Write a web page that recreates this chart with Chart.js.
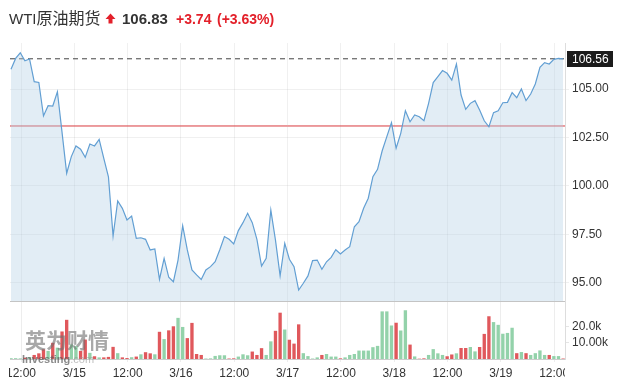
<!DOCTYPE html>
<html><head><meta charset="utf-8">
<script src="https://cdn.jsdelivr.net/npm/chart.js@4/dist/chart.umd.min.js"></script>
<style>
html,body{margin:0;padding:0;background:#fff;width:632px;height:391px;overflow:hidden;}
#wrap{position:relative;width:632px;height:391px;}
canvas{position:absolute;left:0;}
.t{position:absolute;white-space:nowrap;line-height:20px;font-family:'Liberation Sans',Arial,'Noto Sans CJK SC',sans-serif;}
</style></head>
<body><div id="wrap">
<canvas id="pc" width="632" height="302" style="top:0"></canvas>
<canvas id="vc" width="632" height="89" style="top:302px"></canvas>
<div class="t" style="left:9px;top:8.5px;font-size:15px;color:#333;">WTI<span style="font-size:16px">原油期货</span></div>
<svg style="position:absolute;left:105px;top:13px" width="11" height="11"><polygon points="5.5,0.5 10.5,6 7.5,6 7.5,10.5 3.5,10.5 3.5,6 0.5,6" fill="#e3202a"/></svg>
<div class="t" style="left:122px;top:8.5px;font-size:15px;font-weight:bold;color:#333;">106.83</div>
<div class="t" style="left:176px;top:9px;font-size:14px;font-weight:bold;color:#e3202a;">+3.74</div>
<div class="t" style="left:217px;top:9px;font-size:14px;font-weight:bold;color:#e3202a;">(+3.63%)</div>
<div class="t" style="left:25px;top:329px;font-size:21px;font-weight:bold;color:rgba(110,110,110,0.6);font-family:'Noto Sans CJK SC',sans-serif;">英为财情</div>
<div class="t" style="left:22px;top:349px;font-size:11px;font-weight:bold;color:rgba(90,90,90,0.7);">Investing<span style="font-weight:normal;color:rgba(150,150,150,0.6)">.com</span></div>
</div>
<script>
// ---- data ----
const prices = [
106.02,106.58,106.87,106.46,106.55,105.38,105.34,103.61,104.14,104.12,
104.86,102.76,100.65,101.51,102.06,101.89,101.47,102.16,102.06,102.40,
101.42,100.47,97.41,99.22,98.84,98.24,98.44,97.29,97.32,97.24,
96.69,96.74,95.17,96.26,95.28,95.05,96.17,97.94,96.69,95.66,
95.40,95.17,95.66,95.83,96.08,96.70,97.38,97.24,97.00,97.69,
98.10,98.58,98.10,97.24,95.86,96.26,98.75,97.20,95.35,97.03,
96.21,95.83,94.62,94.97,95.35,96.14,96.17,95.69,96.08,96.31,
96.70,96.48,96.69,96.86,97.89,98.15,98.84,99.36,100.47,100.85,
101.81,102.54,103.26,101.94,102.71,103.88,103.31,103.66,103.57,103.36,
104.26,105.33,105.64,105.95,105.81,105.46,106.29,104.69,103.95,104.26,
104.40,103.92,103.36,103.05,103.78,103.88,104.29,104.31,104.81,104.55,
105.00,104.40,104.74,105.26,106.12,106.36,106.29,106.53,106.58,106.56];
const volumes = [ // thousands
0.5,0.5,0.4,0.8,1.2,2.5,3.5,6.0,5.0,10.0,
7.0,17.0,24.2,9.0,8.0,5.0,12.0,3.8,1.7,1.0,
1.0,1.3,7.5,3.6,1.0,0.6,1.1,1.5,2.9,4.2,
3.5,2.9,16.8,12.3,17.7,20.2,25.4,19.8,12.9,22.3,
3.1,2.5,0.3,0.4,1.9,2.3,2.3,0.3,0.4,1.5,
2.9,2.3,4.6,2.5,6.7,2.5,10.9,17.4,28.6,18.2,
11.9,9.5,21.4,3.6,1.8,0.3,1.0,2.5,3.1,1.5,
1.5,0.4,1.0,2.5,3.1,5.2,5.2,5.2,7.3,8.1,
29.4,29.4,20.7,22.4,17.6,30.1,8.9,1.6,0.2,0.4,
2.5,6.1,3.5,2.5,1.7,2.8,3.5,6.8,6.8,7.4,
4.7,7.4,15.5,26.4,22.8,21.1,15.6,16.1,19.3,3.6,
4.3,3.6,2.5,3.6,5.3,2.5,2.5,1.8,1.8,0.3];
const prevClose = 103.09;
const priceTicks = [95, 97.5, 100, 102.5, 105];
const volTicks = [10, 20];
const volTickLabels = ['10.00k', '20.0k'];
const xTickLabels = ['12:00','3/15','12:00','3/16','12:00','3/17','12:00','3/18','12:00','3/19','12:00'];
const xTickFirst = 2.16;   // bar index of first label
const xTickStep = 11.49;   // bars per half day

// ---- view settings ----
const xMin = -0.2155, xMax = 119.4;
const yMin = 94.055, yMax = 107.375;
const volMax = 35.2;
const lastPrice = prices[prices.length - 1];
const RED = '#e0585c', GREEN = '#93d2aa';
const FONT = "'Liberation Sans', Arial, sans-serif";
Chart.defaults.font.family = FONT;
Chart.defaults.font.size = 12;
Chart.defaults.color = '#333';

const xTicks = s => { s.ticks = xTickLabels.map((_, k) => ({ value: xTickFirst + k * xTickStep })); };
const noPad = s => { s.paddingTop = 0; s.paddingBottom = 0; s.paddingLeft = 0; s.paddingRight = 0; };

const lastLabel = {
  id: 'lastLabel',
  afterDraw(chart) {
    const c = chart.ctx, y = chart.scales.y.getPixelForValue(lastPrice);
    const x = chart.chartArea.right + 2;
    c.save();
    c.fillStyle = '#1b1b1b';
    c.fillRect(x, Math.round(y) - 8, 46, 16);
    c.fillStyle = '#fff';
    c.font = '12px ' + FONT;
    c.textBaseline = 'middle';
    c.textAlign = 'left';
    c.fillText(lastPrice.toFixed(2), x + 5, Math.round(y) + 0.5);
    c.restore();
  }
};

new Chart(document.getElementById('pc'), {
  type: 'line',
  data: { datasets: [
    { data: prices.map((v, i) => ({ x: i, y: v })), borderColor: '#629fd3', borderWidth: 1.2,
      backgroundColor: 'rgba(180,208,230,0.38)', fill: 'start', pointRadius: 0, tension: 0 },
    { data: [{ x: xMin, y: prevClose }, { x: xMax, y: prevClose }], borderColor: '#d93a3e',
      borderWidth: 1, pointRadius: 0, fill: false },
    { data: [{ x: xMin, y: lastPrice }, { x: xMax, y: lastPrice }], borderColor: '#444',
      borderWidth: 1, borderDash: [5, 4], pointRadius: 0, fill: false }
  ]},
  options: {
    responsive: false, animation: false, events: [],
    layout: { padding: { left: 10, right: 0, top: 43, bottom: 1 } },
    plugins: { legend: { display: false }, tooltip: { enabled: false } },
    scales: {
      x: { type: 'linear', min: xMin, max: xMax, afterBuildTicks: xTicks,
           ticks: { display: false }, grid: { color: 'rgba(0,0,0,0.06)', drawTicks: false },
           border: { color: '#c4c4c4' }, afterFit: s => { s.height = 0; noPad(s); } },
      y: { position: 'right', min: yMin, max: yMax,
           afterBuildTicks: s => { s.ticks = priceTicks.map(v => ({ value: v })); },
           ticks: { callback: v => v.toFixed(2), padding: 3 },
           grid: { color: 'rgba(0,0,0,0.06)', tickLength: 4 },
           border: { color: '#dddddd' }, afterFit: s => { s.width = 67; noPad(s); } }
    }
  },
  plugins: [lastLabel]
});

const clipX = {
  id: 'clipX',
  beforeDraw(chart) {
    const s = chart.scales.x;
    if (!s.__clip) {
      const orig = s.drawLabels.bind(s);
      s.drawLabels = function (area) {
        const c = chart.ctx, a = chart.chartArea;
        c.save(); c.beginPath(); c.rect(a.left - 1, 0, a.right - a.left + 1, chart.height); c.clip();
        orig(area); c.restore();
      };
      s.__clip = true;
    }
  }
};

new Chart(document.getElementById('vc'), {
  type: 'bar',
  data: { datasets: [{
    data: volumes.map((v, i) => ({ x: i, y: v })),
    backgroundColor: volumes.map((_, i) => (i > 0 && prices[i] < prices[i - 1]) ? RED : GREEN),
    barPercentage: 0.72, categoryPercentage: 1, borderWidth: 0
  }]},
  options: {
    responsive: false, animation: false, events: [],
    layout: { padding: { left: 10, right: 0, top: 0, bottom: 0 } },
    plugins: { legend: { display: false }, tooltip: { enabled: false } },
    scales: {
      x: { type: 'linear', min: xMin, max: xMax, offset: false, afterBuildTicks: xTicks,
           ticks: { autoSkip: false, maxRotation: 0, padding: 4, callback: (v, k) => xTickLabels[k] },
           grid: { color: 'rgba(0,0,0,0.07)', offset: false, tickLength: 3 },
           border: { color: '#cccccc' }, afterFit: s => { s.height = 32; noPad(s); } },
      y: { position: 'right', min: 0, max: volMax,
           afterBuildTicks: s => { s.ticks = volTicks.map(v => ({ value: v })); },
           ticks: { callback: (v, k) => volTickLabels[k], padding: 3 },
           grid: { drawOnChartArea: false, tickLength: 4, color: 'rgba(0,0,0,0.1)' },
           border: { color: '#dddddd' }, afterFit: s => { s.width = 67; noPad(s); } }
    }
  },
  plugins: [clipX]
});
</script>
</body></html>
